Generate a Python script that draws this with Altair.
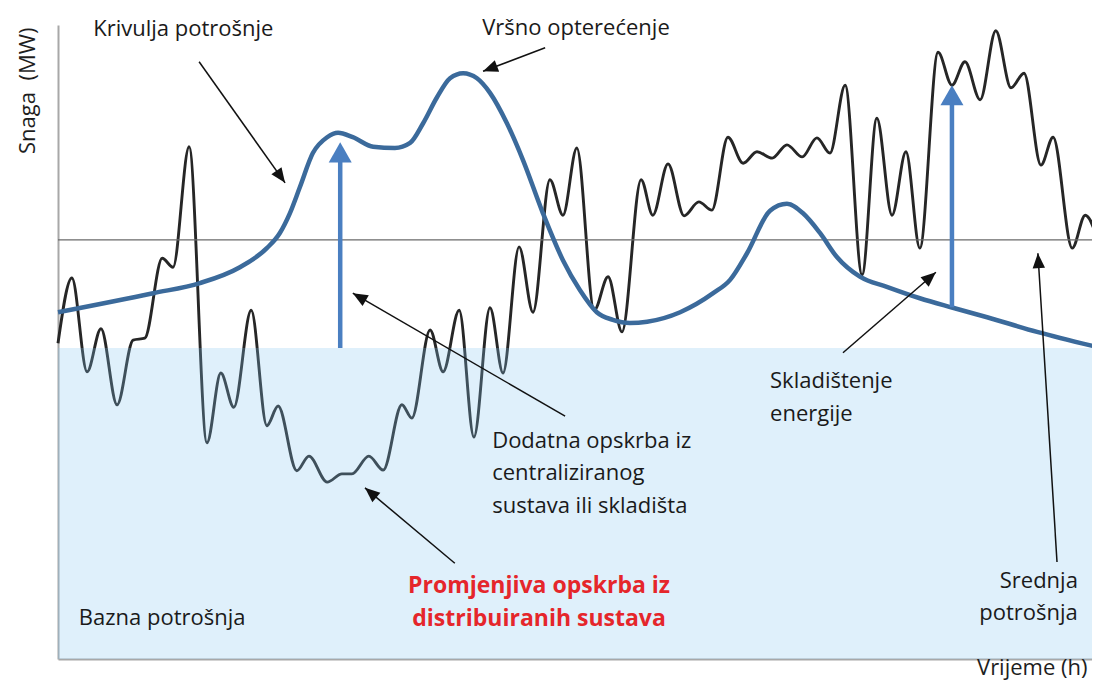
import math
import altair as alt
import pandas as pd

# ---------------- data ----------------
# Variable supply from distributed systems (black wiggly line): time [h], power [MW]
supply_t = [0.00, 0.32, 0.67, 0.99, 1.36, 1.73, 2.00, 2.40, 2.65, 3.02, 3.43, 3.75, 4.05, 4.45,
            4.81, 5.07, 5.50, 5.78, 6.20, 6.54, 6.77, 7.16, 7.49, 7.92, 8.15, 8.57, 8.87, 9.24,
            9.58, 9.95, 10.25, 10.62, 10.94, 11.33, 11.63, 11.95, 12.35, 12.67, 12.99, 13.43,
            13.70, 14.05, 14.42, 14.76, 15.06, 15.43, 15.78, 16.10, 16.45, 16.79, 17.14, 17.48,
            17.78, 18.13, 18.52, 18.86, 19.21, 19.53, 19.85, 20.27, 20.59, 20.89, 21.24, 21.60,
            21.95, 22.25, 22.64, 22.92, 23.36, 23.66, 24.00]
supply_v = [49.8, 60.1, 45.3, 52.1, 40.1, 50.3, 50.6, 63.2, 61.8, 80.8, 34.1, 45.1, 39.7, 55.0,
            36.8, 39.9, 29.7, 32.0, 27.9, 29.2, 29.2, 32.0, 29.8, 40.1, 38.0, 51.9, 45.3, 55.0,
            35.0, 55.4, 45.1, 65.0, 54.7, 75.6, 70.0, 80.6, 55.0, 60.3, 51.6, 75.6,
            70.0, 78.1, 69.9, 72.1, 70.8, 82.3, 78.2, 80.0, 79.0, 81.1, 79.2, 82.2,
            79.8, 90.5, 60.6, 85.3, 70.0, 80.0, 64.8, 95.7, 90.5, 94.2, 88.2, 99.1,
            90.1, 92.4, 77.9, 82.3, 64.8, 70.0, 65.0]

# Consumption curve (Krivulja potrošnje, smooth blue line)
load_t = [0.00, 2.19, 3.27, 4.19, 4.81, 5.11, 5.34, 5.57, 5.87, 6.20, 6.45, 6.79, 7.26, 7.76,
          8.11, 8.41, 8.73, 9.03, 9.33, 9.65, 9.95, 10.34, 10.71, 11.17, 11.63, 12.02, 12.41,
          12.78, 13.17, 13.57, 14.33, 15.09, 15.48, 15.87, 16.40, 16.79, 17.16, 17.55, 17.94,
          18.47, 19.09, 19.85, 20.61, 21.40, 22.55, 24.00]
load_v = [54.7, 57.7, 59.3, 61.8, 64.8, 67.2, 70.3, 74.4, 79.8, 82.3, 83.0, 82.3, 80.8, 80.6,
          81.4, 84.5, 88.6, 91.6, 92.4, 91.6, 89.3, 84.5, 78.7, 70.3, 62.9, 58.2, 54.7,
          53.5, 53.0, 53.2, 54.7, 57.7, 59.8, 64.0, 70.7, 71.8, 70.3, 67.2, 63.4,
          60.3, 58.7, 56.9, 55.4, 53.9, 51.6, 49.1]

base_load = 49.05      # Bazna potrošnja (shaded band top)
mean_load = 66.1       # Srednja potrošnja (horizontal line)

# Blue arrows (supply from central system / storage): time, from, tip
blue_t = [6.50, 20.59]
blue_from = [49.05, 55.5]
blue_tip = [81.5, 90.5]

# Annotation arrows: start -> tip
ann_t0 = [3.25, 11.22, 11.68, 9.14, 18.08, 23.01]
ann_v0 = [94.2, 96.4, 38.3, 15.1, 48.3, 15.3]
ann_t1 = [5.23, 9.79, 6.79, 7.07, 20.22, 22.57]
ann_v1 = [75.1, 92.7, 57.7, 27.0, 61.0, 64.0]

# Labels
left_text = ["Krivulja potrošnje", "Vršno opterećenje",
             "Dodatna opskrba iz\ncentraliziranog\nsustava ili skladišta",
             "Skladištenje\nenergije", "Bazna potrošnja"]
left_t = [0.81, 9.77, 10.00, 16.40, 0.48]
left_v = [98.2, 98.4, 33.3, 42.7, 5.4]
right_text = ["Srednja\npotrošnja"]
right_t = [23.49]
right_v = [11.2]
red_text = ["Promjenjiva opskrba iz\ndistribuiranih sustava"]
red_t = [11.08]
red_v = [10.4]

# ---------------- chart ----------------
PX_T, PX_V = 1042 / 24.0, 634 / 100.0   # pixels per hour / per MW
W, H = 1034, 634                         # visible plot area (page is 1084 px wide)
T_MAX = W / PX_T
FONT = "Open Sans"

def heading(t0, v0, t1, v1):
    dx = (t1 - t0) * PX_T
    dy = -(v1 - v0) * PX_V
    return math.degrees(math.atan2(dx, -dy)) % 360

xs = alt.Scale(domain=[0, T_MAX], nice=False, zero=False)
ys = alt.Scale(domain=[0, 100], nice=False, zero=False)
AX_X = alt.Axis(title="Vrijeme (h)", domain=True, domainColor="#a8a8a8", domainWidth=2,
                ticks=False, labels=False, grid=False, titleFont=FONT, titleFontSize=22,
                titleFontWeight="normal", titleColor="#1e1e1e", titleX=1029, titleY=15,
                titleAlign="right", titleBaseline="alphabetic", titleAngle=0)
AX_Y = alt.Axis(title="Snaga \u00a0(MW)", domain=True, domainColor="#a8a8a8", domainWidth=2,
                ticks=False, labels=False, grid=False, titleFont=FONT, titleFontSize=22,
                titleFontWeight="normal", titleColor="#1e1e1e", titleX=-24, titleY=2,
                titleAlign="right", titleBaseline="alphabetic", titleAngle=270)

def X(f):
    return alt.X(f, type="quantitative", scale=xs, axis=AX_X)

def Y(f):
    return alt.Y(f, type="quantitative", scale=ys, axis=AX_Y)

supply_df = pd.DataFrame({"t": supply_t, "v": supply_v})
load_df = pd.DataFrame({"t": load_t, "v": load_v})
band_df = pd.DataFrame({"t": [0.0], "t2": [T_MAX], "v": [0.0], "v2": [base_load]})
mean_df = pd.DataFrame({"v": [mean_load]})

BLUE_HEAD = 20.0  # px
blue_df = pd.DataFrame({"t": blue_t, "v": blue_from,
                        "vs": [b - (BLUE_HEAD * 0.6) / PX_V for b in blue_tip],
                        "tip": blue_tip, "ang": [0.0, 0.0]})
ann_df = pd.DataFrame({"t": ann_t0, "v": ann_v0, "t2": ann_t1, "v2": ann_v1,
                       "ang": [heading(a, b, c, d) for a, b, c, d in
                               zip(ann_t0, ann_v0, ann_t1, ann_v1)]})
left_df = pd.DataFrame({"t": left_t, "v": left_v, "label": left_text})
right_df = pd.DataFrame({"t": right_t, "v": right_v, "label": right_text})
red_df = pd.DataFrame({"t": red_t, "v": red_v, "label": red_text})

supply_line = alt.Chart(supply_df).mark_line(
    interpolate="monotone", color="#262626", strokeWidth=2.9
).encode(x=X("t"), y=Y("v"))

band = alt.Chart(band_df).mark_rect(color="rgb(133,198,240)", opacity=0.263).encode(
    x=X("t"), x2="t2", y=Y("v"), y2="v2")

mean_rule = alt.Chart(mean_df).mark_rule(color="#6a6a6a", strokeWidth=1.2).encode(y=Y("v"))

load_line = alt.Chart(load_df).mark_line(
    interpolate="monotone", color="#3b6a9b", strokeWidth=4.5
).encode(x=X("t"), y=Y("v"))

blue_shaft = alt.Chart(blue_df).mark_rule(color="#4a7fc1", strokeWidth=4.5).encode(
    x=X("t"), y=Y("v"), y2="vs")
blue_head = alt.Chart(blue_df).mark_point(
    shape="M0,0L-1,1.75L1,1.75Z", filled=True, size=(2 * 11.5) ** 2, opacity=1,
    color="#4a7fc1", strokeWidth=0
).encode(x=X("t"), y=Y("tip"), angle=alt.Angle("ang:Q", scale=None))

ann_line = alt.Chart(ann_df).mark_rule(color="#111111", strokeWidth=1.5).encode(
    x=X("t"), y=Y("v"), x2="t2", y2="v2")
ann_head = alt.Chart(ann_df).mark_point(
    shape="M0,0L-1,2.4L1,2.4Z", filled=True, size=(2 * 6.2) ** 2, opacity=1,
    color="#111111", strokeWidth=0
).encode(x=X("t2"), y=Y("v2"), angle=alt.Angle("ang:Q", scale=None))

left_lbl = alt.Chart(left_df).mark_text(
    align="left", baseline="alphabetic", font=FONT, fontSize=22, color="#1a1a1a",
    lineBreak="\n", lineHeight=32.5
).encode(x=X("t"), y=Y("v"), text="label:N")
right_lbl = alt.Chart(right_df).mark_text(
    align="right", baseline="alphabetic", font=FONT, fontSize=22, color="#1a1a1a",
    lineBreak="\n", lineHeight=32
).encode(x=X("t"), y=Y("v"), text="label:N")
red_lbl = alt.Chart(red_df).mark_text(
    align="center", baseline="alphabetic", font=FONT, fontSize=23, fontWeight="bold",
    color="#e5262b", lineBreak="\n", lineHeight=33
).encode(x=X("t"), y=Y("v"), text="label:N")

chart = alt.layer(
    supply_line, band, mean_rule, load_line, blue_shaft, blue_head,
    ann_line, ann_head, left_lbl, right_lbl, red_lbl
).properties(
    width=W, height=H,
    autosize=alt.AutoSizeParams(type="none"),
    padding={"left": 50, "top": 17, "right": 0, "bottom": 24},
    background="white",
).configure_view(stroke=None)

chart.save("out.html", embed_options={"renderer": "svg", "actions": False})
